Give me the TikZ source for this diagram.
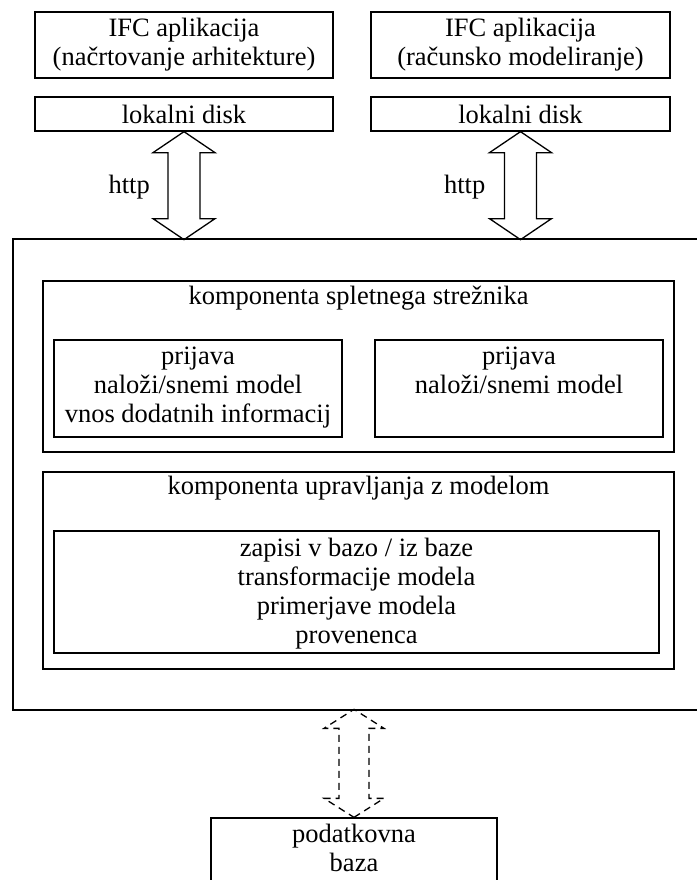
\documentclass[tikz,border=0pt]{standalone}
\usepackage{fontspec}
\setmainfont{Liberation Serif}
\usetikzlibrary{positioning}
\tikzset{
  frame/.style={draw, line width=1.3pt, inner sep=0pt, align=center,
    font=\fontsize{26.5}{29}\selectfont},
  txt/.style={inner sep=0pt, align=center, font=\fontsize{26.5}{29}\selectfont},
  hollow/.style={draw, line width=1.3pt, line join=miter},
  hollowdash/.style={hollow, dash pattern=on 7pt off 5pt}
}

\begin{document}
\begin{tikzpicture}[x=1pt,y=-1pt]
    \useasboundingbox (0,0) rectangle (696,880);
    % applications and local disks
    \node[frame,minimum width=298pt,minimum height=66pt] (app1) at (184,45) {IFC aplikacija\\(načrtovanje arhitekture)};
    \node[frame,minimum width=299pt,minimum height=66pt] (app2) at (520.5,45) {IFC aplikacija\\(računsko modeliranje)};
    \node[frame,minimum width=298pt,minimum height=34pt] (disk1) at (184,114) {lokalni disk};
    \node[frame,minimum width=299pt,minimum height=34pt] (disk2) at (520.5,114) {lokalni disk};
    % server
    \node[frame,minimum width=707pt,minimum height=471pt] (server) at (366.5,474.5) {};
    \node[frame,minimum width=631pt,minimum height=171pt] (webc) at (358.5,366.5) {};
    \node[txt,below=6pt of webc.north] (webtitle) {komponenta spletnega strežnika};
    \node[frame,minimum width=288pt,minimum height=97pt] (suba) at (198,388.5) {};
    \node[txt,below=7pt of suba.north] (subatxt) {prijava\\naloži/snemi model\\vnos dodatnih informacij};
    \node[frame,minimum width=288pt,minimum height=97pt] (subb) at (519,388.5) {};
    \node[txt,below=7pt of subb.north] (subbtxt) {prijava\\naloži/snemi model};
    \node[frame,minimum width=631pt,minimum height=197pt] (modc) at (358.5,570.5) {};
    \node[txt,below=5pt of modc.north] (modtitle) {komponenta upravljanja z modelom};
    \node[frame,minimum width=605pt,minimum height=122pt] (ops) at (356.5,592) {};
    \node[txt,below=8pt of ops.north] (opstxt) {zapisi v bazo / iz baze\\transformacije modela\\primerjave modela\\provenenca};
    % database
    \node[frame,minimum width=286pt,minimum height=82pt] (db) at (354,859) {};
    \node[txt,below=7pt of db.north] (dbtxt) {podatkovna\\baza};
    % http arrows
    \draw[hollow] (disk1.south) -- ++(31,21) -- ++(-15,0) -- ++(0,66) -- ++(15,0) -- ++(-31,21)
      -- ++(-31,-21) -- ++(15,0) -- ++(0,-66) -- ++(-15,0) -- cycle;
    \draw[hollow] (disk2.south) -- ++(31,21) -- ++(-15,0) -- ++(0,66) -- ++(15,0) -- ++(-31,21)
      -- ++(-31,-21) -- ++(15,0) -- ++(0,-66) -- ++(-15,0) -- cycle;
    \node[txt,anchor=base east] (http1) at ([shift={(-34,62)}]disk1.south) {http};
    \node[txt,anchor=base east] (http2) at ([shift={(-35,62)}]disk2.south) {http};
    % database link
    \draw[hollowdash] (db.north) -- ++(30,-19) -- ++(-15,0) -- ++(0,-70) -- ++(15,0) -- ++(-30,-19)
      -- ++(-30,19) -- ++(15,0) -- ++(0,70) -- ++(-15,0) -- cycle;
  \end{tikzpicture}
\end{document}
